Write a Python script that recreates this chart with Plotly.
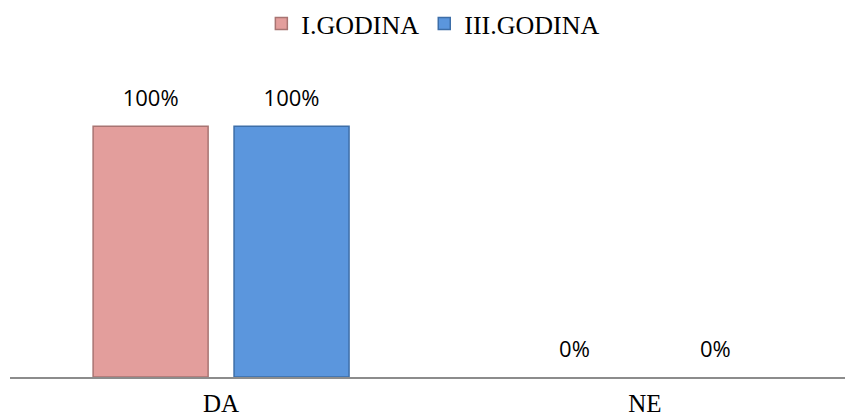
import plotly.graph_objects as go

categories = ["DA", "NE"]
series_names = ["I.GODINA", "III.GODINA"]
godina_1 = [100, 0]
godina_3 = [100, 0]

colors = ["#E39E9C", "#5B96DD"]
edge_colors = ["#A87472", "#3D6EA8"]

serif = "Liberation Serif, Times New Roman, serif"
sans = "Open Sans, Liberation Sans, sans-serif"

fig = go.Figure()
for i, (name, vals, col, edge) in enumerate(zip(series_names, [godina_1, godina_3], colors, edge_colors)):
    fig.add_trace(go.Bar(
        x=categories, y=vals, name=name, offsetgroup=str(i),
        marker=dict(color=col,
                    line=dict(color=edge, width=[1.5 if v > 0 else 0 for v in vals])),
    ))
    # value labels, placed with the same grouping as the bars
    fig.add_trace(go.Scatter(
        x=categories, y=vals, offsetgroup=str(i), mode="markers+text",
        marker=dict(size=22, opacity=0), text=[f"{v}%" for v in vals],
        textposition="top center", showlegend=False, hoverinfo="skip",
        textfont=dict(family=sans, size=22, color="#000000"), cliponaxis=False,
    ))

fig.update_layout(
    width=845, height=416,
    margin=dict(l=10, r=0, t=76, b=39),
    paper_bgcolor="white", plot_bgcolor="white",
    barmode="group", scattermode="group", bargap=0.335, bargroupgap=0.184,
    showlegend=True,
    legend=dict(orientation="h", x=0.507, xanchor="center", y=0.943, yanchor="middle",
                yref="container", font=dict(family=serif, size=26, color="#000000"),
                itemwidth=30, traceorder="normal"),
    xaxis=dict(range=[-0.498, 1.472], showline=True, linecolor="#8C8C8C", linewidth=1.5,
               ticks="", automargin=False, ticklabelstandoff=3,
               tickfont=dict(family=serif, size=25, color="#000000")),
    yaxis=dict(range=[0, 120], visible=False, showgrid=False, zeroline=False),
)

fig.write_html("out.html")
